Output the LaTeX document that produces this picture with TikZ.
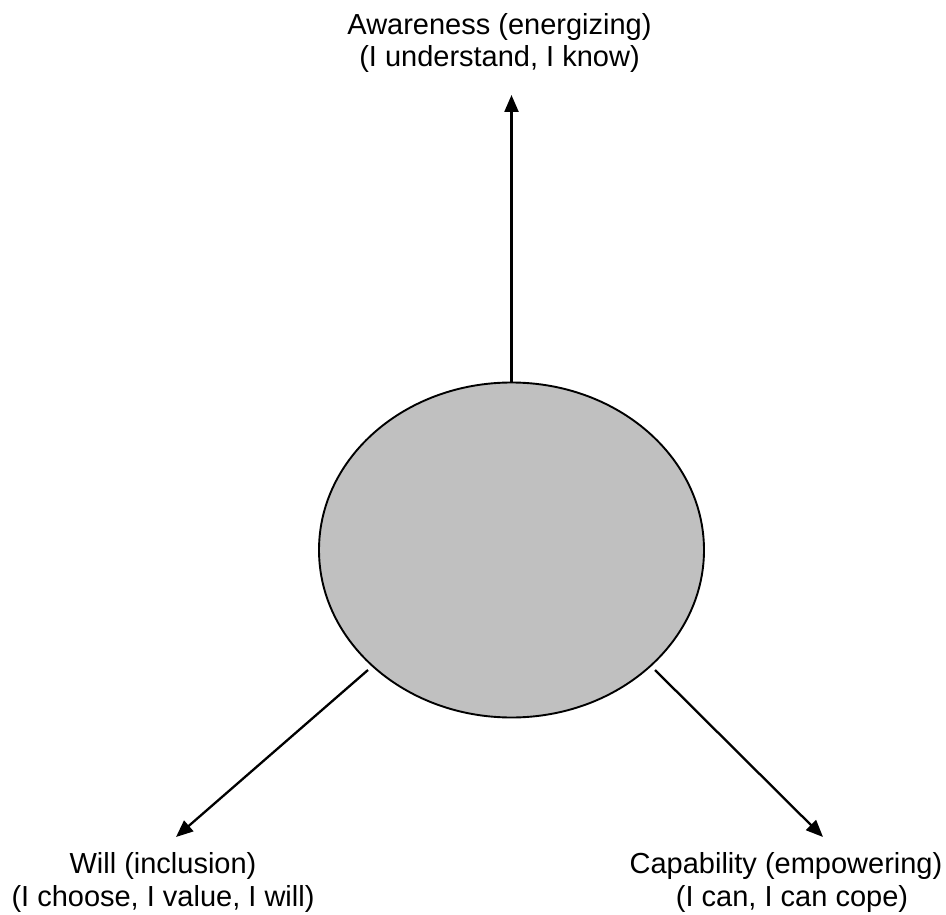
\documentclass[tikz,border=0pt]{standalone}
\usepackage{fontspec}
\setmainfont{Liberation Sans}
\usetikzlibrary{arrows.meta}
\begin{document}
\begin{tikzpicture}[x=1pt,y=-1pt,
  lbl/.style={align=center,inner sep=0pt,font=\fontsize{29}{32.5}\selectfont},
  hubstyle/.style={draw=black,line width=1.9pt,fill=hubgray},
  link/.style={line width=2.3pt,-{Triangle[length=17pt,width=14pt]}}]
\definecolor{hubgray}{HTML}{C0C0C0}
\useasboundingbox (0,0) rectangle (946,915);
% central ellipse
\draw[hubstyle] (511.5,550) ellipse [x radius=192.5, y radius=167.5];
\coordinate (hubtop) at (511.5,382.5);
\coordinate (hubleft) at (368,670);
\coordinate (hubright) at (655,670);
% labels (base anchor sits on the last line)
\node[lbl,anchor=base] (aware) at (499.5,67) {Awareness (energizing)\\(I understand, I know)};
\node[lbl,anchor=base] (will) at (163,906) {Will (inclusion)\\(I choose, I value, I will)};
\node[lbl,anchor=base] (capab) at (786,906) {Capability (empowering)\\\hspace*{12pt}(I can, I can cope)};
% arrow tips
\coordinate (tiptop) at (511.5,95);
\coordinate (tipleft) at (176,837);
\coordinate (tipright) at (823,837);
\draw[link] (hubtop) -- (tiptop);
\draw[link] (hubleft) -- (tipleft);
\draw[link] (hubright) -- (tipright);
\end{tikzpicture}
\end{document}
